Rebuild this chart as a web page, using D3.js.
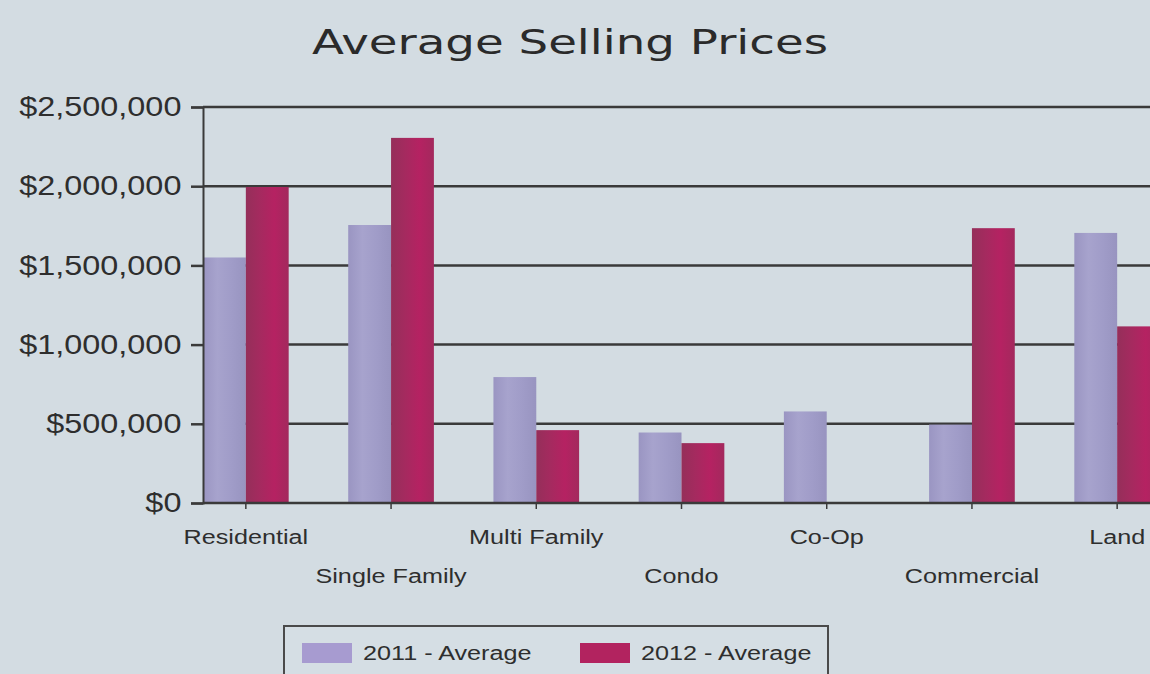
<!DOCTYPE html>
<html>
<head>
<meta charset="utf-8">
<script src="https://cdn.jsdelivr.net/npm/d3@7"></script>
<style>
  body { margin: 0; background: #d3dce2; }
  svg { display: block; }
  text { font-family: "Liberation Sans", Arial, sans-serif; fill: #2e2e2e; }
</style>
</head>
<body>
<div id="chart"></div>
<script>
var w = 1150, h = 674;

// Data
var categories = ["Residential", "Single Family", "Multi Family", "Condo", "Co-Op", "Commercial", "Land"];
var seriesNames = ["2011 - Average", "2012 - Average"];
var avg2011 = [1550000, 1755000, 795000, 445000, 578000, 495000, 1705000];
var avg2012 = [1995000, 2305000, 460000, 378000, 0, 1735000, 1115000];
var yTickValues = [0, 500000, 1000000, 1500000, 2000000, 2500000];

var dataset = categories.map(function(c, i) {
  return { cat: c, values: [avg2011[i], avg2012[i]] };
});

var plotLeft = 203, plotRight = 1160, plotTop = 107, plotBottom = 503;
var sx = 1.2; // the source picture is stretched sideways

var xScale = d3.scaleBand()
  .domain(categories)
  .range([plotLeft, plotRight])
  .paddingInner(0.41)
  .paddingOuter(0);

var xSub = d3.scaleBand()
  .domain([0, 1])
  .range([0, xScale.bandwidth()]);

var yScale = d3.scaleLinear()
  .domain([0, 2500000])
  .range([plotBottom, plotTop]);

var svg = d3.select("#chart")
  .append("svg")
  .attr("width", w)
  .attr("height", h);

svg.append("rect")
  .attr("width", w)
  .attr("height", h)
  .attr("fill", "#d3dce2");

// Bar gradients
var defs = svg.append("defs");
var grads = [
  { id: "g2011", stops: ["#9a95c2", "#a7a3cd", "#a09cc8", "#9894c0"] },
  { id: "g2012", stops: ["#952f5a", "#a52a5f", "#b52262", "#a3295d"] }
];
grads.forEach(function(g) {
  var lg = defs.append("linearGradient")
    .attr("id", g.id)
    .attr("x1", 0).attr("x2", 1).attr("y1", 0).attr("y2", 0);
  g.stops.forEach(function(c, i) {
    lg.append("stop")
      .attr("offset", (i / (g.stops.length - 1) * 100) + "%")
      .attr("stop-color", c);
  });
});
var fills = ["url(#g2011)", "url(#g2012)"];

// Title
svg.append("text")
  .attr("x", 570)
  .attr("y", 54)
  .attr("text-anchor", "middle")
  .attr("textLength", 516)
  .attr("lengthAdjust", "spacingAndGlyphs")
  .style("font-family", "'DejaVu Sans', sans-serif")
  .style("font-size", "34px")
  .style("fill", "#2a2a2a")
  .text("Average Selling Prices");

// Gridlines
svg.append("g")
  .attr("class", "grid")
  .selectAll("line")
  .data(yTickValues.slice(1))
  .enter()
  .append("line")
  .attr("x1", plotLeft)
  .attr("x2", w)
  .attr("y1", function(d) { return yScale(d); })
  .attr("y2", function(d) { return yScale(d); })
  .attr("stroke", "#3a3a3a")
  .attr("stroke-width", 2.5);

// Bars
svg.append("g")
  .selectAll("g")
  .data(dataset)
  .enter()
  .append("g")
  .attr("transform", function(d) { return "translate(" + xScale(d.cat) + ",0)"; })
  .selectAll("rect")
  .data(function(d) { return d.values; })
  .enter()
  .append("rect")
  .attr("x", function(d, i) { return xSub(i); })
  .attr("width", xSub.bandwidth())
  .attr("y", function(d) { return yScale(d); })
  .attr("height", function(d) { return plotBottom - yScale(d); })
  .attr("fill", function(d, i) { return fills[i]; });

// Y axis
var yAxis = d3.axisLeft(yScale)
  .tickValues(yTickValues)
  .tickSize(12)
  .tickPadding(6)
  .tickFormat(function(d) { return "$" + d3.format(",")(d); });

var gy = svg.append("g")
  .attr("class", "y_axis")
  .attr("transform", "translate(" + plotLeft + ",0)")
  .call(yAxis);
gy.select(".domain").attr("stroke", "#3a3a3a").attr("stroke-width", 2);
gy.selectAll(".tick line").attr("stroke", "#3a3a3a").attr("stroke-width", 2.5);
gy.selectAll("text")
  .attr("transform", "scale(" + sx + ",1)")
  .style("font-size", "27px")
  .style("fill", "#2e2e2e");

// X axis
var xAxis = d3.axisBottom(xScale)
  .tickSize(6)
  .tickSizeOuter(0);

var gx = svg.append("g")
  .attr("class", "x_axis")
  .attr("transform", "translate(0," + plotBottom + ")")
  .call(xAxis);
gx.select(".domain")
  .attr("d", "M" + plotLeft + ",0H" + w)
  .attr("stroke", "#3a3a3a")
  .attr("stroke-width", 2.5);
gx.selectAll(".tick line").attr("stroke", "#3a3a3a").attr("stroke-width", 1.5);
gx.selectAll("text")
  .attr("y", function(d, i) { return i % 2 === 0 ? 41 : 80; })
  .attr("dy", 0)
  .attr("transform", "scale(" + sx + ",1)")
  .style("font-size", "21px")
  .style("fill", "#2e2e2e");

// Legend
var legend = svg.append("g")
  .attr("class", "legend")
  .attr("transform", "translate(284,626)");

legend.append("rect")
  .attr("width", 544)
  .attr("height", 70)
  .attr("fill", "#d5dee4")
  .attr("stroke", "#4a4a4a")
  .attr("stroke-width", 2);

var item = legend.selectAll(".item")
  .data(seriesNames)
  .enter()
  .append("g")
  .attr("class", "item")
  .attr("transform", function(d, i) { return "translate(" + (18 + i * 278) + ",17)"; });

item.append("rect")
  .attr("width", 50)
  .attr("height", 20)
  .attr("fill", function(d, i) { return i === 0 ? "#a79bd0" : "#b2235f"; });

item.append("text")
  .attr("x", 61 / sx)
  .attr("y", 17)
  .attr("transform", "scale(" + sx + ",1)")
  .style("font-size", "21px")
  .text(function(d) { return d; });
</script>
</body>
</html>
